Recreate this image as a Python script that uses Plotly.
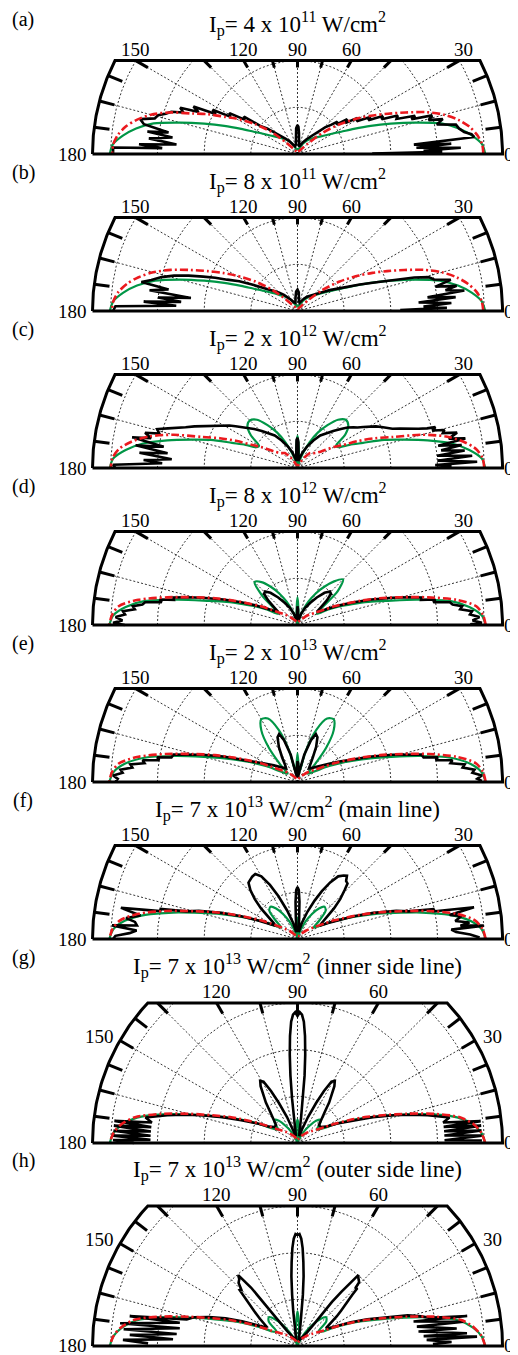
import numpy as np
import plotly.graph_objects as go

# ---------------- data (r in grid units, theta in degrees) ----------------
THETA_GRID = [0, 3, 6, 9, 12, 15, 18, 21, 24, 27, 30, 35, 40, 45, 50, 55, 60, 65, 70, 75, 80, 85, 90,
              95, 100, 105, 110, 115, 120, 125, 130, 135, 140, 145, 150, 153, 156, 159, 162, 165, 168, 171, 174, 177, 180]

RED_A = [3.98, 3.96, 3.87, 3.73, 3.52, 3.25, 2.90, 2.48, 2.12, 1.82, 1.55, 1.12, 0.72, 0.32, 0.16, 0.11, 0.08, 0.07, 0.06, 0.05, 0.05, 0.06, 0.07,
         0.06, 0.05, 0.05, 0.06, 0.07, 0.08, 0.11, 0.18, 0.36, 0.75, 1.12, 1.52, 1.75, 2.1, 2.42, 2.88, 3.25, 3.52, 3.73, 3.87, 3.95, 3.97]
GREEN_A = [4.02, 3.96, 3.76, 3.5, 3.15, 2.6, 2.1, 1.68, 1.32, 1.05, 0.88, 0.68, 0.56, 0.48, 0.42, 0.35, 0.28, 0.22, 0.16, 0.12, 0.1, 0.1, 0.1,
           0.1, 0.1, 0.12, 0.16, 0.22, 0.28, 0.35, 0.42, 0.48, 0.56, 0.68, 0.88, 1.05, 1.32, 1.68, 2.1, 2.6, 3.15, 3.5, 3.76, 3.96, 4.02]
RED_B = [3.98, 3.95, 3.86, 3.7, 3.48, 3.2, 2.85, 2.45, 2.1, 1.8, 1.52, 1.1, 0.7, 0.35, 0.18, 0.12, 0.09, 0.07, 0.06, 0.05, 0.05, 0.06, 0.07,
         0.06, 0.05, 0.05, 0.06, 0.07, 0.09, 0.12, 0.18, 0.35, 0.7, 1.1, 1.52, 1.8, 2.1, 2.45, 2.85, 3.2, 3.48, 3.7, 3.86, 3.95, 3.98]
GREEN_B = [4.02, 3.95, 3.75, 3.48, 3.12, 2.6, 2.1, 1.68, 1.32, 1.05, 0.88, 0.68, 0.55, 0.46, 0.4, 0.33, 0.27, 0.2, 0.15, 0.12, 0.1, 0.1, 0.12,
           0.1, 0.1, 0.12, 0.15, 0.2, 0.27, 0.33, 0.4, 0.46, 0.55, 0.68, 0.88, 1.05, 1.32, 1.68, 2.1, 2.6, 3.12, 3.48, 3.75, 3.95, 4.02]
RED_C = [4.0, 3.97, 3.85, 3.6, 3.25, 2.75, 2.15, 1.78, 1.42, 1.08, 0.9, 0.62, 0.5, 0.45, 0.42, 0.3, 0.2, 0.12, 0.08, 0.06, 0.06, 0.06, 0.06,
         0.06, 0.06, 0.06, 0.08, 0.12, 0.2, 0.3, 0.42, 0.45, 0.5, 0.62, 0.9, 1.08, 1.42, 1.78, 2.15, 2.75, 3.25, 3.6, 3.85, 3.97, 4.0]
GREEN_C = [4.02, 3.95, 3.7, 3.35, 2.85, 2.35, 1.95, 1.5, 1.22, 0.98, 0.95, 1.25, 1.42, 1.46, 1.35, 1.12, 0.88, 0.6, 0.33, 0.12, 0.03, 0.35, 0.69,
           0.35, 0.03, 0.12, 0.33, 0.6, 0.88, 1.12, 1.35, 1.44, 1.4, 1.22, 0.95, 0.98, 1.22, 1.5, 1.95, 2.35, 2.85, 3.35, 3.7, 3.95, 4.02]
RED_D = [4.03, 3.98, 3.85, 3.45, 2.85, 2.3, 1.85, 1.45, 1.12, 0.88, 0.65, 0.45, 0.35, 0.28, 0.2, 0.15, 0.12, 0.1, 0.08, 0.07, 0.06, 0.06, 0.07,
         0.06, 0.06, 0.07, 0.08, 0.1, 0.12, 0.15, 0.2, 0.28, 0.35, 0.45, 0.65, 0.88, 1.12, 1.45, 1.85, 2.3, 2.85, 3.45, 3.85, 3.98, 4.03]
GREEN_D = [4.03, 3.95, 3.7, 3.3, 2.6, 2.0, 1.6, 1.25, 0.98, 0.72, 0.48, 0.62, 1.12, 1.38, 1.22, 1.0, 0.78, 0.55, 0.32, 0.12, 0.03, 0.25, 0.59,
           0.25, 0.03, 0.12, 0.32, 0.55, 0.78, 1.0, 1.2, 1.3, 1.0, 0.6, 0.48, 0.72, 0.98, 1.25, 1.6, 2.0, 2.6, 3.3, 3.7, 3.95, 4.03]
RED_E = [4.03, 3.98, 3.84, 3.45, 2.88, 2.32, 1.86, 1.46, 1.13, 0.88, 0.66, 0.46, 0.36, 0.28, 0.21, 0.16, 0.12, 0.1, 0.08, 0.07, 0.06, 0.06, 0.07,
         0.06, 0.06, 0.07, 0.08, 0.1, 0.12, 0.16, 0.21, 0.28, 0.36, 0.46, 0.66, 0.88, 1.13, 1.46, 1.86, 2.32, 2.88, 3.45, 3.84, 3.98, 4.03]
GREEN_E = [4.03, 3.95, 3.72, 3.32, 2.68, 2.08, 1.64, 1.28, 0.98, 0.74, 0.52, 0.34, 0.28, 0.5, 0.95, 1.35, 1.55, 1.5, 1.2, 0.7, 0.2, 0.3, 0.62,
           0.3, 0.2, 0.7, 1.2, 1.5, 1.55, 1.35, 0.95, 0.5, 0.28, 0.34, 0.52, 0.74, 0.98, 1.28, 1.64, 2.08, 2.68, 3.32, 3.72, 3.95, 4.03]
RED_F = [4.03, 3.97, 3.82, 3.45, 2.88, 2.3, 1.85, 1.45, 1.12, 0.88, 0.66, 0.45, 0.33, 0.25, 0.18, 0.13, 0.1, 0.08, 0.07, 0.06, 0.06, 0.06, 0.07,
         0.06, 0.06, 0.06, 0.07, 0.08, 0.1, 0.13, 0.18, 0.25, 0.33, 0.45, 0.66, 0.88, 1.12, 1.45, 1.85, 2.3, 2.88, 3.45, 3.82, 3.97, 4.03]
GREEN_F = [4.03, 3.95, 3.72, 3.3, 2.72, 2.15, 1.72, 1.35, 1.05, 0.8, 0.58, 0.42, 0.6, 0.85, 0.9, 0.8, 0.62, 0.42, 0.22, 0.08, 0.02, 0.2, 0.46,
           0.2, 0.02, 0.08, 0.22, 0.42, 0.62, 0.8, 0.9, 0.85, 0.6, 0.42, 0.58, 0.8, 1.05, 1.35, 1.72, 2.15, 2.72, 3.3, 3.72, 3.95, 4.03]
RED_G = [4.02, 3.95, 3.8, 3.52, 3.0, 2.42, 1.92, 1.55, 1.2, 0.92, 0.7, 0.5, 0.4, 0.33, 0.27, 0.22, 0.18, 0.15, 0.12, 0.1, 0.08, 0.07, 0.08,
         0.07, 0.08, 0.1, 0.12, 0.15, 0.18, 0.22, 0.27, 0.33, 0.4, 0.5, 0.7, 0.92, 1.2, 1.55, 1.92, 2.42, 3.0, 3.52, 3.8, 3.95, 4.02]
GREEN_G = [4.02, 3.95, 3.78, 3.48, 2.95, 2.35, 1.85, 1.48, 1.15, 0.85, 0.62, 0.5, 0.62, 0.7, 0.62, 0.45, 0.3, 0.15, 0.05, 0.02, 0.08, 0.3, 0.5,
           0.3, 0.08, 0.02, 0.05, 0.15, 0.3, 0.45, 0.62, 0.7, 0.62, 0.5, 0.62, 0.85, 1.15, 1.48, 1.85, 2.35, 2.95, 3.48, 3.78, 3.95, 4.02]
RED_H = [4.02, 3.95, 3.8, 3.55, 3.02, 2.42, 1.92, 1.55, 1.2, 0.9, 0.68, 0.5, 0.4, 0.33, 0.27, 0.22, 0.18, 0.15, 0.12, 0.1, 0.08, 0.07, 0.08,
         0.07, 0.08, 0.1, 0.12, 0.15, 0.18, 0.22, 0.27, 0.33, 0.4, 0.5, 0.68, 0.9, 1.2, 1.55, 1.92, 2.42, 3.02, 3.55, 3.8, 3.95, 4.02]
GREEN_H = [4.02, 3.95, 3.78, 3.5, 2.95, 2.35, 1.85, 1.48, 1.15, 0.85, 0.62, 0.55, 0.8, 0.87, 0.75, 0.55, 0.35, 0.18, 0.06, 0.02, 0.1, 0.4, 0.74,
           0.4, 0.1, 0.02, 0.06, 0.18, 0.35, 0.55, 0.75, 0.87, 0.8, 0.55, 0.62, 0.85, 1.15, 1.48, 1.85, 2.35, 2.95, 3.5, 3.78, 3.95, 4.02]

# experimental (black) curves: (theta, r) pairs
BLACK_A = [(180, 3.95), (178, 3.95), (177.5, 2.9), (176.5, 3.4), (175.5, 2.6), (174, 3.2), (172.5, 2.7), (171.5, 3.25), (170.5, 2.8),
           (169, 3.35), (167.5, 3.45), (166, 3.15), (164.5, 3.1), (163, 2.95), (161.5, 2.85), (160, 2.6), (158.5, 2.7), (157, 2.3),
           (155.5, 2.45), (154, 1.95), (152.5, 2.05), (151, 1.65), (149, 1.7), (147, 1.35), (145, 1.4), (143, 1.0), (140, 0.85),
           (137, 0.68), (133, 0.55), (128, 0.42), (122, 0.32), (115, 0.22), (108, 0.17), (100, 0.2), (96, 0.38), (93, 0.55), (90, 0.62),
           (88, 0.58), (86, 0.45), (83, 0.28), (78, 0.16), (72, 0.2), (65, 0.28), (58, 0.38), (52, 0.5), (47, 0.65), (44, 0.82),
           (41, 0.95), (39, 1.1), (37, 1.05), (35, 1.3), (33, 1.22), (31, 1.5), (29, 1.45), (27, 1.75), (25.5, 1.68), (24, 2.0),
           (22.5, 1.95), (21, 2.3), (19.5, 2.25), (18, 2.65), (17, 2.55), (16, 3.0), (14.5, 2.9), (13.5, 3.2), (12, 3.05), (10.5, 3.45),
           (9, 3.5), (7.5, 3.6), (6.5, 3.75), (5.5, 3.8), (4.6, 2.5), (3.8, 3.3), (3.0, 2.55), (2.2, 3.5), (1.5, 2.7), (0.9, 3.1), (0.4, 1.6)]
BLACK_B = [(180, 3.95), (178.5, 3.9), (177.5, 2.6), (176.5, 3.3), (175.5, 2.5), (174.5, 3.0), (173, 2.3), (172, 3.2), (170.5, 2.8),
           (169.5, 3.4), (168, 3.2), (166, 3.0), (164, 2.75), (162, 2.45), (160, 2.15), (158, 1.9), (156, 1.65), (153, 1.4), (150, 1.15),
           (147, 0.95), (144, 0.8), (140, 0.66), (135, 0.55), (130, 0.45), (125, 0.36), (120, 0.28), (112, 0.2), (104, 0.18), (98, 0.3),
           (94, 0.42), (90, 0.46), (86, 0.4), (82, 0.22), (76, 0.18), (70, 0.22), (62, 0.3), (55, 0.38), (48, 0.46), (42, 0.55),
           (37, 0.68), (33, 0.82), (29, 1.0), (26, 1.2), (23, 1.45), (20, 1.8), (17.5, 2.2), (16, 2.6), (14.5, 2.9), (13, 3.0),
           (11.5, 3.35), (10, 3.0), (9, 3.45), (8, 3.2), (7, 3.6), (6, 2.8), (5, 3.4), (4, 2.6), (3, 3.3), (2, 2.7), (1.2, 3.2), (0.5, 2.2)]
BLACK_C = [(180, 3.9), (179, 3.95), (178, 2.9), (177, 3.3), (176, 2.7), (174.5, 3.4), (173.5, 2.8), (172, 3.5), (171, 2.9), (169.5, 3.6),
           (168.5, 3.2), (167, 3.35), (166, 3.05), (164.5, 3.12), (163, 2.9), (161.5, 2.7), (160, 2.55), (158, 2.38), (156, 2.2),
           (154, 2.05), (152, 1.95), (150, 1.82), (148, 1.72), (146, 1.6), (144, 1.5), (141, 1.38), (138, 1.25), (134, 1.1), (130, 0.98),
           (125, 0.85), (120, 0.68), (114, 0.5), (108, 0.35), (103, 0.2), (98, 0.15), (95, 0.3), (92, 0.6), (90, 0.65),
           (88, 0.55), (86, 0.3), (83, 0.15), (78, 0.22), (72, 0.35), (66, 0.5), (60, 0.68), (55, 0.85), (50, 0.98), (46, 1.1),
           (42, 1.25), (39, 1.38), (36, 1.48), (34, 1.55), (32, 1.66), (30, 1.78), (28, 1.9), (26, 2.0), (24, 2.12), (22.5, 2.2),
           (21, 2.35), (20, 2.45), (19, 2.58), (18, 2.72), (17, 2.9), (16.5, 3.08), (15.5, 3.0), (14.5, 3.25), (13.5, 3.2), (12.5, 3.5),
           (11, 3.3), (10, 3.65), (9, 3.05), (8, 3.55), (7, 3.1), (6, 3.6), (5, 3.0), (4, 3.75), (3, 3.0), (2, 3.85), (1.2, 2.95), (0.6, 3.3)]
BLACK_D = [(180, 3.7), (179.3, 3.95), (178.5, 3.75), (177.5, 3.9), (176.5, 3.7), (175.5, 3.75), (174.5, 3.5), (173.5, 3.55), (172.5, 3.35),
           (171.5, 3.3), (170.5, 2.95), (169.5, 3.0), (168.5, 2.7), (167.5, 2.72), (166, 2.45), (164, 2.12), (161, 1.68), (158, 1.3),
           (155, 1.0), (152, 0.75), (149, 0.55), (146, 0.5), (143, 0.62), (140, 0.82), (137, 0.98), (134, 1.0), (130, 0.9), (125, 0.72),
           (120, 0.55), (114, 0.4), (108, 0.25), (102, 0.12), (97, 0.1), (94, 0.2), (92, 0.33), (90, 0.4),
           (88, 0.33), (86, 0.2), (83, 0.1), (78, 0.12), (72, 0.25), (66, 0.4), (60, 0.55), (55, 0.72), (50, 0.9), (46, 1.0), (43, 0.98),
           (40, 0.82), (37, 0.62), (34, 0.5), (31, 0.55), (28, 0.75), (25, 1.0), (22, 1.3), (19, 1.68), (16, 2.12), (14, 2.45),
           (12.5, 2.72), (11.5, 2.7), (10.5, 3.0), (9.5, 2.95), (8.5, 3.3), (7.5, 3.35), (6.5, 3.55), (5.5, 3.5), (4.5, 3.75), (3.5, 3.7),
           (2.5, 3.9), (1.5, 3.75), (0.7, 3.95), (0.2, 3.7)]
BLACK_E = [(180, 3.9), (179, 3.85), (178, 3.95), (177, 3.75), (176, 3.8), (175, 3.55), (174, 3.6), (173, 3.3), (172, 3.35), (171, 3.0),
           (170, 3.05), (169, 2.75), (167.5, 2.72), (166, 2.45), (164, 2.12), (161, 1.68), (158, 1.3), (154, 1.0), (150, 0.78),
           (145, 0.62), (140, 0.5), (135, 0.42), (130, 0.38), (126, 0.45), (122, 0.62), (118, 0.85), (114, 1.05), (111, 1.1), (108, 0.95),
           (104, 0.6), (100, 0.25), (96, 0.1), (94, 0.22), (92, 0.4), (90, 0.45), (88, 0.4), (86, 0.22), (84, 0.1), (80, 0.25), (76, 0.6),
           (72, 0.95), (69, 1.1), (66, 1.05), (62, 0.85), (58, 0.62), (54, 0.45), (50, 0.38), (45, 0.42), (40, 0.5), (35, 0.62),
           (30, 0.78), (26, 1.0), (22, 1.3), (19, 1.68), (16, 2.12), (14, 2.45), (12.5, 2.72), (11, 2.75), (10, 3.05), (9, 3.0),
           (8, 3.35), (7, 3.3), (6, 3.6), (5, 3.55), (4, 3.8), (3, 3.75), (2, 3.95), (1, 3.85), (0.3, 3.95)]
BLACK_F = [(180, 3.95), (179, 3.9), (178, 3.6), (177, 3.45), (175.8, 3.98), (175.2, 3.45), (174, 3.5), (173, 3.7), (171.5, 3.4),
           (170, 3.84), (168.5, 3.0), (167.6, 3.0), (166, 2.45), (164, 2.2), (161, 1.72), (158, 1.3), (155, 0.95), (152, 0.72),
           (149, 0.55), (146, 0.62), (143, 0.8), (140, 1.02), (137, 1.25), (134, 1.45), (131, 1.6), (128, 1.62), (126, 1.65), (123, 1.66),
           (120, 1.55), (117, 1.3), (114, 1.0), (110, 0.65), (105, 0.35), (100, 0.15), (96.5, 0.2), (94.5, 0.45), (93, 0.8), (91.5, 1.05),
           (90, 1.11), (88.5, 1.05), (87, 0.8), (85.5, 0.45), (83.5, 0.2), (80, 0.15), (75, 0.35), (70, 0.62), (66, 0.9), (63, 1.15),
           (60, 1.4), (57, 1.6), (54, 1.68), (52, 1.72), (50, 1.62), (48, 1.6), (46, 1.45), (43, 1.25), (40, 1.02), (37, 0.8), (34, 0.62),
           (31, 0.55), (28, 0.72), (25, 0.95), (22, 1.3), (19, 1.72), (16, 2.2), (14, 2.45), (12.4, 3.0), (11.5, 2.95), (10.2, 3.84),
           (9, 3.3), (8, 3.55), (6.5, 3.4), (5.5, 3.7), (4.7, 3.5), (4.1, 4.0), (3.5, 3.3), (2.5, 3.4), (1.5, 3.7), (0.5, 3.9)]
BLACK_G = [(180, 3.5), (179.1, 3.95), (178.8, 3.15), (177.7, 3.95), (177.2, 3.15), (176.2, 3.95), (175.5, 3.15), (174.6, 3.95),
           (173.8, 3.15), (173.1, 3.95), (172.0, 3.15), (170.5, 3.3), (168, 2.85), (166, 2.5), (164, 2.15), (161, 1.7), (158, 1.3),
           (154, 0.95), (150, 0.7), (145, 0.6), (140, 0.6), (135, 0.72), (131, 0.9), (128, 1.1), (125, 1.3), (123, 1.45), (121, 1.55),
           (119, 1.5), (117, 1.25), (115, 0.95), (112, 0.6), (108, 0.3), (104, 0.15), (100, 0.25), (98, 0.55), (97, 0.95), (96, 1.45),
           (95, 1.9), (94, 2.3), (93, 2.6), (92, 2.75), (91, 2.8), (90, 2.72), (89, 2.8), (88, 2.75), (87, 2.6), (86, 2.3), (85, 1.9),
           (84, 1.45), (83, 0.95), (82, 0.55), (80, 0.25), (76, 0.15), (72, 0.3), (68, 0.6), (65, 0.95), (63, 1.25), (61, 1.5), (59, 1.55),
           (57, 1.45), (55, 1.3), (52, 1.1), (49, 0.9), (45, 0.72), (40, 0.6), (35, 0.6), (30, 0.7), (26, 0.95), (22, 1.3), (19, 1.7),
           (16, 2.15), (14, 2.5), (12, 2.85), (9.5, 3.3), (8.0, 3.15), (6.8, 3.95), (6.3, 3.15), (5.4, 3.95), (4.6, 3.15), (3.9, 3.95),
           (2.9, 3.15), (2.3, 3.95), (1.1, 3.15), (0.8, 3.95)]
BLACK_H = [(179, 3.2), (178, 3.74), (176.9, 2.67), (176.2, 3.6), (174.3, 2.6), (174.5, 3.74), (171.4, 2.55), (172.7, 3.83), (168.8, 2.57),
           (169.9, 3.65), (166.5, 2.44), (164.5, 2.3), (162, 2.0), (159, 1.65), (156, 1.3), (153, 1.0), (150, 0.8), (148, 0.78),
           (146, 0.88), (144, 1.0), (141, 1.2), (138, 1.45), (136, 1.72), (135, 1.7), (133, 1.85), (131, 1.9), (129.9, 1.98), (128.5, 1.6),
           (128, 1.3), (127.5, 1.0), (127, 0.7), (125, 0.4), (120, 0.22), (112, 0.15), (104, 0.12), (100, 0.2), (98, 0.45), (97, 0.75),
           (96, 1.1), (95, 1.5), (94, 1.8), (93, 2.1), (92, 2.3), (91, 2.4), (90, 2.38), (89, 2.4), (88, 2.3), (87, 2.1), (86, 1.8),
           (85, 1.5), (84, 1.1), (83, 0.75), (82, 0.45), (80, 0.2), (76, 0.12), (68, 0.15), (60, 0.22), (55, 0.35), (53, 0.6),
           (52.5, 0.9), (52, 1.2), (51, 1.5), (50, 1.8), (49.4, 2.0), (48, 1.95), (46, 1.9), (45, 1.75), (44, 1.78), (43, 1.6), (41, 1.4),
           (39, 1.2), (37, 1.05), (35, 0.9), (33.5, 0.76), (32, 0.72), (30, 0.75), (27, 0.95), (24, 1.25), (21, 1.6), (18, 1.98),
           (15.5, 2.45), (13.5, 2.72), (12, 2.9), (10, 3.69), (11.9, 2.54), (8.3, 3.59), (9.2, 2.59), (6.3, 3.43), (6.8, 2.61),
           (4.3, 3.64), (4.5, 2.71), (3, 3.85), (2.7, 2.77), (1.5, 3.3), (0.8, 2.9)]

PANEL_TAGS = ["(a)", "(b)", "(c)", "(d)", "(e)", "(f)", "(g)", "(h)"]
TITLES = ["I<sub>p</sub>= 4 x 10<sup>11</sup> W/cm<sup>2</sup>",
          "I<sub>p</sub>= 8 x 10<sup>11</sup> W/cm<sup>2</sup>",
          "I<sub>p</sub>= 2 x 10<sup>12</sup> W/cm<sup>2</sup>",
          "I<sub>p</sub>= 8 x 10<sup>12</sup> W/cm<sup>2</sup>",
          "I<sub>p</sub>= 2 x 10<sup>13</sup> W/cm<sup>2</sup>",
          "I<sub>p</sub>= 7 x 10<sup>13</sup> W/cm<sup>2</sup> (main line)",
          "I<sub>p</sub>= 7 x 10<sup>13</sup> W/cm<sup>2</sup> (inner side line)",
          "I<sub>p</sub>= 7 x 10<sup>13</sup> W/cm<sup>2</sup> (outer side line)"]
REDS = [RED_A, RED_B, RED_C, RED_D, RED_E, RED_F, RED_G, RED_H]
GREENS = [GREEN_A, GREEN_B, GREEN_C, GREEN_D, GREEN_E, GREEN_F, GREEN_G, GREEN_H]
BLACKS = [BLACK_A, BLACK_B, BLACK_C, BLACK_D, BLACK_E, BLACK_F, BLACK_G, BLACK_H]
CLIP_TOP = [2, 2, 2, 2, 2, 2, 3, 3]          # axis limit (top chord) in grid units
RING_VALUES = [1, 2, 3, 4]
SPOKE_ANGLES = list(range(15, 180, 15))
ANGLE_LABELS = [150, 120, 90, 60, 30]

# ---------------- layout geometry (page pixels) ----------------
PAGE_W, PAGE_H = 518, 1355
BODY_MARGIN = 8                      # default HTML body margin around the plot div
W, H = PAGE_W - BODY_MARGIN, PAGE_H - BODY_MARGIN
RMAX = 4.39
CX = 297.5
RPX = 205.0
PXU = RPX / RMAX
PAD = 0.12
BASE_PX = [154, 311, 468, 625, 782, 939, 1143, 1346]
FONT = "Liberation Serif"
TICK_FRAC = 0.075


def px_x(px):
    return (px - BODY_MARGIN) / W


def px_y(py):
    return (H - (py - BODY_MARGIN)) / H


def to_xy(theta, r):
    t = np.radians(np.asarray(theta, dtype=float))
    r = np.asarray(r, dtype=float)
    return r * np.cos(t), r * np.sin(t)


fig = go.Figure()
annotations = []
layout_axes = {}

for i in range(8):
    k = i + 1
    xn = "x" if k == 1 else f"x{k}"
    yn = "y" if k == 1 else f"y{k}"
    yt = CLIP_TOP[i]
    layout_axes["xaxis" if k == 1 else f"xaxis{k}"] = dict(
        domain=[px_x(CX - (RMAX + PAD) * PXU), px_x(CX + (RMAX + PAD) * PXU)],
        range=[-(RMAX + PAD), RMAX + PAD], visible=False, fixedrange=True, anchor=yn)
    layout_axes["yaxis" if k == 1 else f"yaxis{k}"] = dict(
        domain=[px_y(BASE_PX[i] + PAD * PXU), px_y(BASE_PX[i] - (yt + PAD) * PXU)],
        range=[-PAD, yt + PAD], visible=False, fixedrange=True, anchor=xn)

    # dashed grid: rings and spokes, limited to the visible window
    gx, gy = [], []
    th = np.linspace(0, 180, 721)
    for rg in RING_VALUES:
        x, y = to_xy(th, np.full_like(th, rg))
        for xv, yv in zip(x, y):
            if yv <= yt + 1e-9:
                gx.append(float(xv)); gy.append(float(yv))
            else:
                gx.append(None); gy.append(None)
        gx.append(None); gy.append(None)
    for a in SPOKE_ANGLES:
        re = min(RMAX, yt / np.sin(np.radians(a)))
        x, y = to_xy([a, a], [0, re])
        gx += [float(x[0]), float(x[1]), None]
        gy += [float(y[0]), float(y[1]), None]
    fig.add_trace(go.Scatter(x=gx, y=gy, xaxis=xn, yaxis=yn, mode="lines",
                             line=dict(color="black", width=0.8, dash="2px,2px"), hoverinfo="skip"))

    # data curves
    gxx, gyy = to_xy(THETA_GRID, GREENS[i])
    fig.add_trace(go.Scatter(x=gxx, y=gyy, xaxis=xn, yaxis=yn, mode="lines",
                             line=dict(color="rgb(0,150,70)", width=2.2, shape="spline", smoothing=0.8),
                             hoverinfo="skip"))
    bt = [p[0] for p in BLACKS[i]]
    br = [p[1] for p in BLACKS[i]]
    bxx, byy = to_xy(bt, br)
    fig.add_trace(go.Scatter(x=bxx, y=byy, xaxis=xn, yaxis=yn, mode="lines",
                             line=dict(color="black", width=2.6), hoverinfo="skip"))
    rxx, ryy = to_xy(THETA_GRID, REDS[i])
    fig.add_trace(go.Scatter(x=rxx, y=ryy, xaxis=xn, yaxis=yn, mode="lines",
                             line=dict(color="rgb(235,25,30)", width=2.6, dash="8px,3px,2px,3px",
                                       shape="spline", smoothing=0.8),
                             hoverinfo="skip"))

    # frame: left arc, chord, right arc, baseline
    alpha = np.degrees(np.arcsin(yt / RMAX))
    th_l = np.linspace(180, 180 - alpha, 60)
    th_r = np.linspace(alpha, 0, 60)
    lx, ly = to_xy(th_l, np.full_like(th_l, RMAX))
    rx, ry = to_xy(th_r, np.full_like(th_r, RMAX))
    fx = list(lx) + list(rx) + [-RMAX]
    fy = list(ly) + list(ry) + [0.0]
    fig.add_trace(go.Scatter(x=fx, y=fy, xaxis=xn, yaxis=yn, mode="lines",
                             line=dict(color="black", width=3), hoverinfo="skip"))

    # thick ticks
    tx, ty = [], []
    for a in np.arange(7.5, 180, 7.5):
        s = np.sin(np.radians(a))
        on_arc = RMAX * s <= yt
        if not on_arc and (a % 15 != 0):
            continue
        re = RMAX if on_arc else yt / s
        x, y = to_xy([a, a], [re * (1 - TICK_FRAC), re])
        tx += [float(x[0]), float(x[1]), None]
        ty += [float(y[0]), float(y[1]), None]
    fig.add_trace(go.Scatter(x=tx, y=ty, xaxis=xn, yaxis=yn, mode="lines",
                             line=dict(color="black", width=3), hoverinfo="skip"))

    # angle labels
    lab_font = dict(family=FONT, size=19, color="black")
    annotations.append(dict(x=-RMAX, y=0, xref=xn, yref=yn, text="180", showarrow=False,
                            xanchor="right", yanchor="middle", xshift=-3, font=lab_font))
    annotations.append(dict(x=RMAX, y=0, xref=xn, yref=yn, text="0", showarrow=False,
                            xanchor="left", yanchor="middle", xshift=0, font=lab_font))
    for a in ANGLE_LABELS:
        s = np.sin(np.radians(a))
        if RMAX * s > yt:
            xa = yt / np.tan(np.radians(a))
            annotations.append(dict(x=float(xa), y=yt, xref=xn, yref=yn, text=str(a), showarrow=False,
                                    xanchor="center", yanchor="bottom", yshift=-1,
                                    xshift=4 if a == 30 else 0, font=lab_font))
        else:
            xa, ya = to_xy([a], [RMAX])
            annotations.append(dict(x=float(xa[0]), y=float(ya[0]), xref=xn, yref=yn, text=str(a),
                                    showarrow=False, xanchor="right" if a > 90 else "left",
                                    yanchor="middle", xshift=-4 if a > 90 else 6, yshift=4, font=lab_font))

    # title and panel tag
    chord_px = BASE_PX[i] - yt * PXU
    annotations.append(dict(x=px_x(CX), y=px_y(chord_px - 37), xref="paper", yref="paper",
                            text=TITLES[i], showarrow=False, xanchor="center", yanchor="middle",
                            font=dict(family=FONT, size=23, color="black")))
    annotations.append(dict(x=px_x(23), y=px_y(max(chord_px - 45, 20)), xref="paper", yref="paper",
                            text=PANEL_TAGS[i], showarrow=False, xanchor="center", yanchor="middle",
                            font=dict(family=FONT, size=20, color="black")))

fig.update_layout(width=W, height=H, autosize=False, margin=dict(l=0, r=0, t=0, b=0),
                  paper_bgcolor="white", plot_bgcolor="white", showlegend=False,
                  annotations=annotations, **layout_axes)
fig.write_html("out.html", config={"displayModeBar": False})
